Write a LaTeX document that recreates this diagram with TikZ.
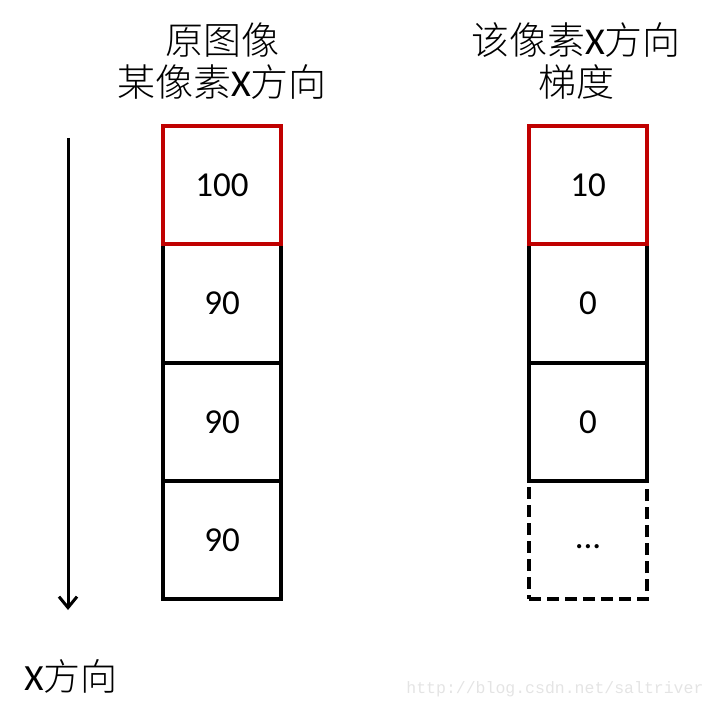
\documentclass[tikz,border=0pt]{standalone}
\usepackage{fontspec}
\setmainfont{Carlito}
\newfontfamily\cjk{Noto Sans CJK SC Light}
\newfontfamily\wmfont{Liberation Mono}
\usetikzlibrary{arrows.meta}
\definecolor{boxred}{RGB}{192,0,0}
\definecolor{wmgray}{RGB}{228,228,228}
\tikzset{
  cell/.style={draw=black, line width=3.5pt, minimum width=118pt, minimum height=118pt, inner sep=0pt, font=\fontsize{35}{35}\selectfont},
  redcell/.style={cell, draw=boxred},
  dashcell/.style={cell, dash pattern=on 12pt off 6pt},
  title/.style={align=center, font=\fontsize{38}{42}\selectfont\cjk},
}
\begin{document}
\begin{tikzpicture}[x=1pt,y=-1pt]
\useasboundingbox (0,0) rectangle (719,708);
% left column
\node[cell] (l2) at (222,303.5) {90};
\node[cell] (l3) at (222,422) {90};
\node[cell] (l4) at (222,540) {90};
\node[redcell] (l1) at (222,185) {100};
% right column
\node[cell] (r2) at (588,303.5) {0};
\node[cell] (r3) at (588,422) {0};
\node[dashcell] (r4) at (588,540) {\raisebox{-8pt}[0pt][0pt]{...}};
\node[redcell] (r1) at (588,185) {10};
% titles
\node[title] (tl) at (222,61) {原图像\\某像素{\fontspec{Carlito}X}方向};
\node[title] (tr) at (576,61) {该像素{\fontspec{Carlito}X}方向\\梯度};
% arrow
\coordinate (a1) at (68,138);
\coordinate (a2) at (68,610);
\draw[line width=3pt, -{Straight Barb[length=11pt,width=18pt]}] (a1) -- (a2);
\node[font=\fontsize{37}{37}\selectfont\cjk] (xl) at (71,676) {{\fontspec{Carlito}X}方向};
% watermark
\node[font=\fontsize{16.5}{16.5}\selectfont\wmfont, text=wmgray, anchor=east] (wm) at (707,689) {http://blog.csdn.net/saltriver};
\end{tikzpicture}
\end{document}
